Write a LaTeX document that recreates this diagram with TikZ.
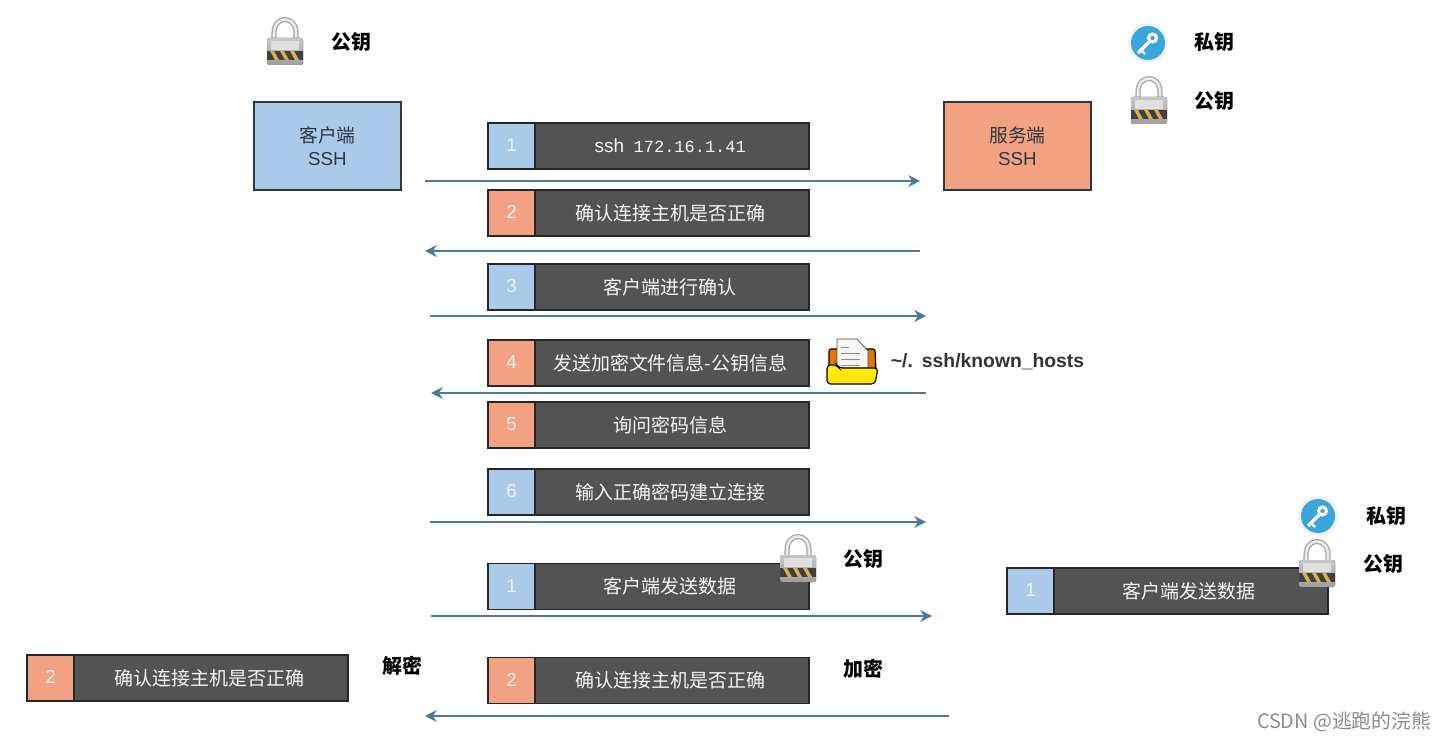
\documentclass[tikz,border=0pt]{standalone}
\usepackage{fontspec}
\setmainfont{Liberation Sans}
\setmonofont{Liberation Mono}
\newfontfamily\cjk{Noto Sans CJK SC}
\newfontfamily\latinsans{Liberation Sans}
\usepackage{tikz}
\usetikzlibrary{arrows.meta, positioning}

\definecolor{stepblue}{HTML}{ABC9E9}
\definecolor{steporange}{HTML}{F2A283}
\definecolor{stepdark}{HTML}{535353}
\definecolor{flowline}{HTML}{4A7B9D}
\definecolor{frameline}{HTML}{2E3640}
\definecolor{keyblue}{HTML}{3BA6DC}
\definecolor{lockstripe}{HTML}{D9AE4E}

\tikzset{
    hostbox/.style={draw=frameline, line width=1.1pt, outer sep=0pt, minimum width=4.41cm, minimum height=2.64cm, inner sep=0pt, align=center, text=frameline, font=\fontsize{16}{19.5}\selectfont},
    numbox/.style={draw=black!85, line width=1.1pt, outer sep=0pt, minimum width=1.41cm, minimum height=1.38cm, inner sep=0pt, text=white!90!gray, font=\fontsize{16}{18}\selectfont},
    textbox/.style={draw=black!85, fill=stepdark, line width=1.1pt, outer sep=0pt, minimum width=8.22cm, minimum height=1.38cm, inner sep=0pt, text=white!92!gray, font=\cjk\fontsize{16.2}{18}\selectfont},
    keylabel/.style={inner sep=0pt, font=\cjk\bfseries\fontsize{17}{20}\selectfont},
    flowarrow/.style={flowline, line width=1pt, -{Stealth[length=10pt, width=10pt]}},
    lock/.pic={
        \draw[line width=4.4pt, black!35] (-11,-2) -- (-11,-9) .. controls (-11,-27) and (11,-27) .. (11,-9) -- (11,-2);
        \draw[line width=2.2pt, black!8] (-11,-2) -- (-11,-9) .. controls (-11,-27) and (11,-27) .. (11,-9) -- (11,-2);
        \fill[rounded corners=2pt, top color=black!22, bottom color=black!38] (-18,-4) rectangle (18,23);
        \fill[black!12] (-14,-1) rectangle (14,8);
        \fill[black!75] (-18,9) rectangle (18,18);
        \foreach \sx in {-15,-5,5} {
            \fill[lockstripe] (\sx,9) -- (\sx+4,9) -- (\sx+9,18) -- (\sx+5,18) -- cycle;
        }
    },
    key/.pic={
        \fill[black!5] (0,0) circle (20);
        \fill[keyblue] (0,0) circle (17);
        \draw[white, line width=2.8pt] (-10,10) -- (2,-2);
        \draw[white, line width=2pt] (-7,7) -- (-3,11);
        \draw[white, line width=2.6pt] (4.5,-5) circle (4);
    },
    folder/.pic={
        \filldraw[fill=orange!90!black, draw=black, line width=1pt, rounded corners=2pt] (-22,-15) -- (24,-15) -- (25,8) -- (-22,8) -- cycle;
        \filldraw[fill=white!92!gray, draw=black!70, line width=.6pt] (-14,-25) -- (6,-25) -- (17,-13) -- (17,8) -- (-14,8) -- cycle;
        \foreach \ly/\lx in {-17/-2,-11/9,-5/9,1/9} {
            \draw[black!45, line width=.8pt] (-10,\ly) -- (\lx,\ly);
        }
        \filldraw[top color=yellow!90!orange, bottom color=yellow!75!orange, draw=black, line width=1pt, rounded corners=3pt] (-24,1) -- (-14,1) -- (-12,4) -- (27,4) -- (24,20) -- (-24,20) -- cycle;
    }
}

\begin{document}
\begin{tikzpicture}[x=0.03cm, y=-0.03cm]
    \useasboundingbox (0,0) rectangle (1445,740);

    % Hosts
    \node[hostbox, fill=stepblue] (client) at (327.5,146) {{\cjk 客户端}\\SSH};
    \node[hostbox, fill=steporange] (server) at (1017.5,146) {{\cjk 服务端}\\SSH};

    % Steps: name / number / centre y / colour / text
    \foreach \nm/\nr/\yy/\col/\txt in {
        sa/1/146/stepblue/{{\latinsans ssh}\hspace{.5em}{\ttfamily\fontsize{14.5}{18}\selectfont 172.16.1.41}},
        sb/2/213/steporange/确认连接主机是否正确,
        sc/3/287/stepblue/客户端进行确认,
        sd/4/363/steporange/发送加密文件信息-公钥信息,
        se/5/425/steporange/询问密码信息,
        sf/6/492/stepblue/输入正确密码建立连接,
        sg/1/586.5/stepblue/客户端发送数据,
        sh/2/680.5/steporange/确认连接主机是否正确} {
        \node[numbox, fill=\col] (num\nm) at (511.5,\yy) {\raisebox{1.5pt}{\nr}};
        \node[textbox, right=0pt of num\nm] (txt\nm) {\hspace*{-3pt}\txt};
    }

    % Copies outside the middle column
    \node[numbox, fill=stepblue] (numright) at (1030.5,591) {\raisebox{1.5pt}{1}};
    \node[textbox, right=0pt of numright] (txtright) {\hspace*{-3pt}客户端发送数据};
    \node[numbox, fill=steporange] (numleft) at (50.5,678) {\raisebox{1.5pt}{2}};
    \node[textbox, right=0pt of numleft] (txtleft) {\hspace*{-3pt}确认连接主机是否正确};

    % Flow arrows: name / start x / end x / y
    \foreach \nm/\xa/\xb/\yy in {
        fa/425/920/181, fb/920/425/251, fc/430/926/316, fd/926/431/393,
        fe/430/926/522, ff/431/932/616, fg/949/425/716} {
        \coordinate (from\nm) at (\xa,\yy);
        \coordinate (to\nm) at (\xb,\yy);
        \draw[flowarrow] (from\nm) -- (to\nm);
    }

    % Locks and keys
    \pic at (285,42) {lock};
    \pic at (1149,101) {lock};
    \pic at (798,559) {lock};
    \pic at (1317,564) {lock};
    \pic at (1148,43) {key};
    \pic at (1318,516) {key};

    % Key labels
    \node[keylabel] (pubclient) at (351,42) {公钥};
    \node[keylabel] (priserver) at (1214,42) {私钥};
    \node[keylabel] (pubserver) at (1214,101) {公钥};
    \node[keylabel] (pubmiddle) at (863,559) {公钥};
    \node[keylabel] (priright) at (1386,516) {私钥};
    \node[keylabel] (pubright) at (1383,564) {公钥};
    \node[keylabel] (decrypt) at (402,666) {解密};
    \node[keylabel] (encrypt) at (863,669) {加密};

    % Known hosts file
    \pic at (851,364) {folder};
    \node[inner sep=0pt, font=\bfseries\fontsize{16.5}{18}\selectfont, text=black!80] (hostsfile) at (987.5,362) {\textasciitilde/.\hspace{.1em} ssh/known\_hosts};

    % Watermark
    \node[inner sep=0pt, text=black!45, font=\cjk\fontsize{16.9}{18}\selectfont] (mark) at (1344,722) {CSDN @逃跑的浣熊};
\end{tikzpicture}
\end{document}
